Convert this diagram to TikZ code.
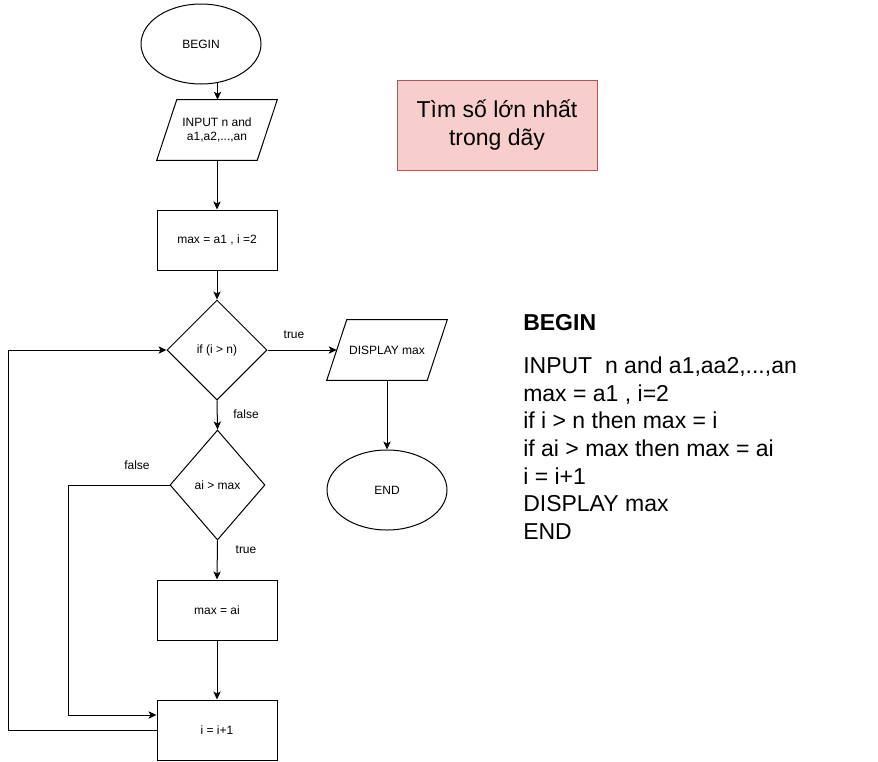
\documentclass[tikz,border=0pt]{standalone}
\usepackage{fontspec}
\setmainfont{Liberation Sans}
\usetikzlibrary{shapes.geometric,arrows.meta}
\definecolor{titlefill}{HTML}{F8CECC}
\definecolor{titledraw}{HTML}{B85450}
\begin{document}
\begin{tikzpicture}[x=0.75pt,y=-0.75pt,
 every node/.style={font=\fontsize{9pt}{10.5pt}\selectfont, inner sep=0pt},
 proc/.style={draw, rectangle, line width=0.75pt, minimum width=90pt, minimum height=45pt},
 io/.style={rectangle, minimum width=75pt, minimum height=45pt, align=center},
 iobox/.style={draw, line width=0.75pt, line join=miter},
 term/.style={draw, ellipse, line width=0.75pt, minimum width=90pt, minimum height=60pt},
 dec/.style={draw, diamond, line width=0.75pt},
 arr/.style={-{Stealth[length=6pt,width=5.5pt,inset=1.5pt]}, line width=0.75pt},
 codeline/.style={anchor=base west, font=\fontsize{17.25pt}{20pt}\selectfont}
]
\useasboundingbox (0,0) rectangle (878,761);

% flowchart nodes
\node[term] (begin) at (201,44) {BEGIN};
\node[io] (input) at (217,130) {INPUT n and\\a1,a2,...,an};
\draw[iobox] ([xshift=-7.5pt]input.south west) -- ([xshift=-7.5pt]input.south east) -- ([xshift=7.5pt]input.north east) -- ([xshift=7.5pt]input.north west) -- cycle;
\node[proc] (init) at (217,240) {max = a1 , i =2};
\node[dec, minimum width=75pt, minimum height=75pt] (dec1) at (217,350) {if (i {\textgreater} n)};
\node[io] (disp) at (387,350) {DISPLAY max};
\draw[iobox] ([xshift=-7.5pt]disp.south west) -- ([xshift=-7.5pt]disp.south east) -- ([xshift=7.5pt]disp.north east) -- ([xshift=7.5pt]disp.north west) -- cycle;
\node[term] (end) at (387,490) {END};
\node[dec, minimum width=71.25pt, minimum height=82.5pt] (dec2) at (217.5,485) {ai {\textgreater} max};
\node[proc] (setmax) at (217,610) {max = ai};
\node[proc] (inc) at (217,730) {i = i+1};

% connectors
\draw[arr] (begin.-67.4) -- (begin.-67.4 |- input.north);
\draw[arr] (input.south) -- (init.north);
\draw[arr] (init.south) -- (dec1.north);
\draw[arr] (dec1.east) -- (disp.west);
\draw[arr] (disp.south) -- (end.north);
\draw[arr] (dec1.south) -- (dec2.north);
\draw[arr] (dec2.south) -- (setmax.north);
\draw[arr] (setmax.south) -- (inc.north);
\draw[arr] (dec2.west) -- (68,485) -- (68,715) -- ([yshift=11.25pt]inc.west);
\draw[arr] (inc.west) -- (8,730) -- (8,350) -- (dec1.west);

% labels
\node (ltrue1) at (294,335) {true};
\node (lfalse1) at (246,414) {false};
\node (lfalse2) at (137,465) {false};
\node (ltrue2) at (246,550) {true};

% title
\node[draw=titledraw, fill=titlefill, line width=0.75pt, minimum width=150pt, minimum height=67.5pt, align=center, font=\fontsize{17.25pt}{21pt}\selectfont] (title) at (497,125) {Tìm số lớn nhất\\trong dãy};

% pseudocode
\node[codeline, font=\fontsize{17.25pt}{20pt}\selectfont\bfseries] (c0) at (523,330) {BEGIN};
\node[codeline] (c1) at (523,373) {INPUT\ \ n and a1,aa2,...,an};
\node[codeline] (c2) at (523,401) {max = a1 , i=2};
\node[codeline] (c3) at (523,428.5) {if i {\textgreater} n then max = i};
\node[codeline] (c4) at (523,456) {if ai {\textgreater} max then max = ai};
\node[codeline] (c5) at (523,484) {i = i+1};
\node[codeline] (c6) at (523,511.5) {DISPLAY max};
\node[codeline] (c7) at (523,539) {END};
\end{tikzpicture}
\end{document}
